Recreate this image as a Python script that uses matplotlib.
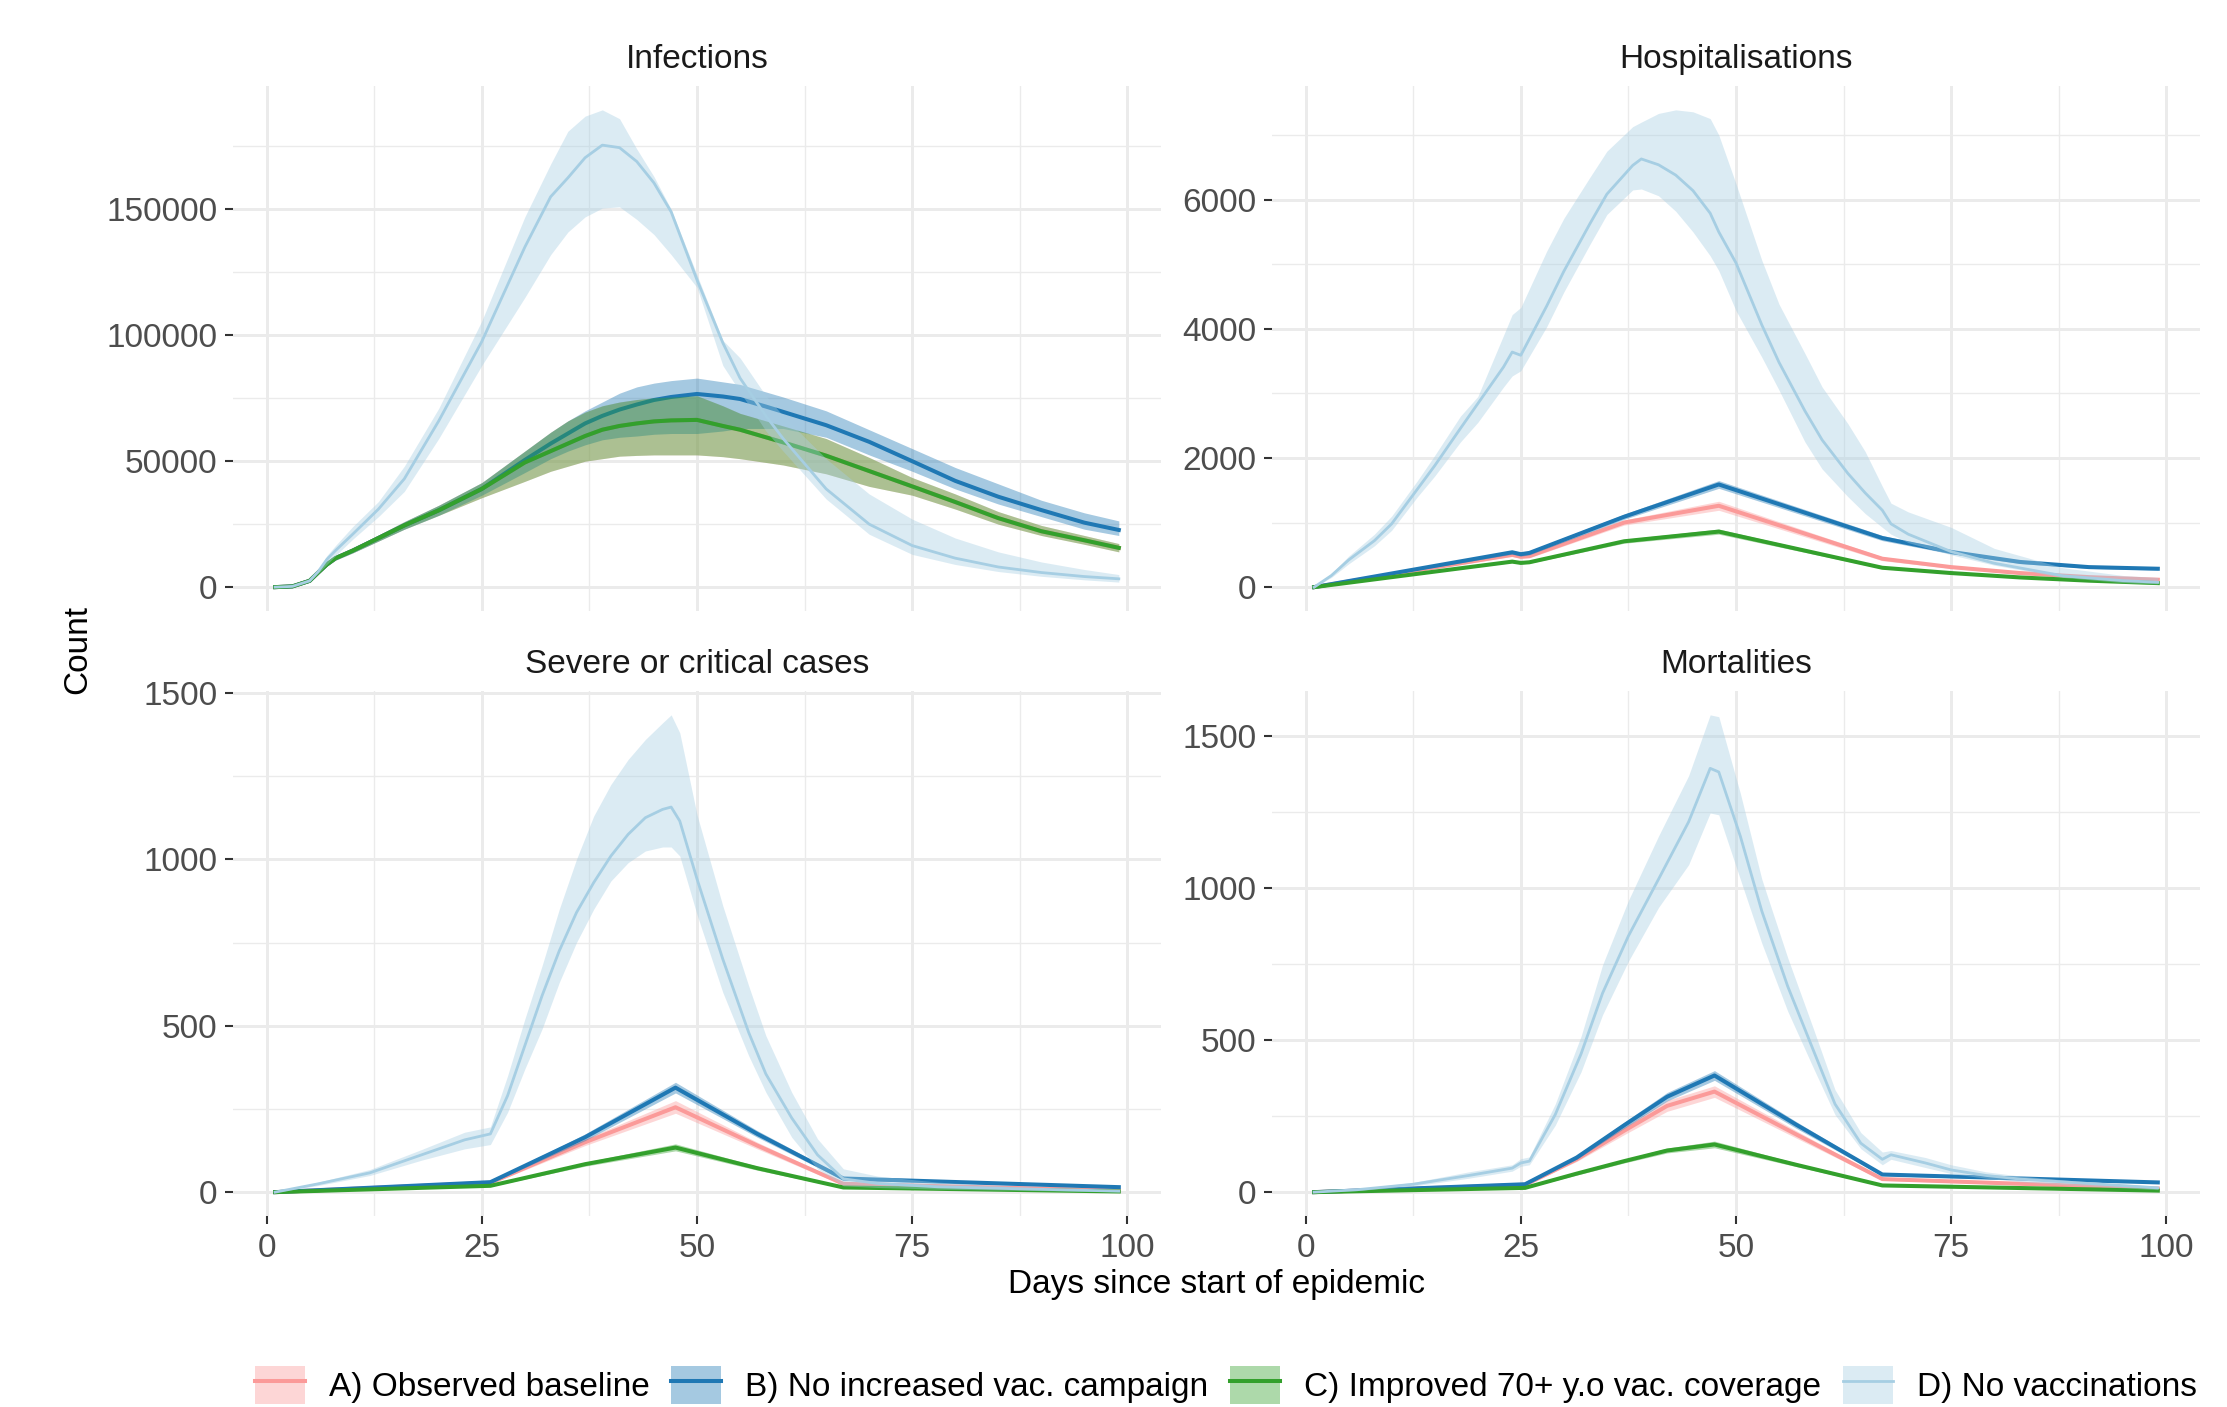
#!/usr/bin/env python3
from pathlib import Path

import matplotlib
matplotlib.use('Agg')
import matplotlib.pyplot as plt
from matplotlib.lines import Line2D
from matplotlib.patches import Patch
from matplotlib.legend_handler import HandlerTuple
from matplotlib.ticker import MultipleLocator, FuncFormatter

OUT = Path('out.png')

SCENARIOS = ['A', 'B', 'C', 'D']
LABELS = ['A) Observed baseline', 'B) No increased vac. campaign',
          'C) Improved 70+ y.o vac. coverage', 'D) No vaccinations']
COLORS = {'A': '#fb9a99', 'B': '#1f78b4', 'C': '#33a02c', 'D': '#a6cee3'}
LINE_W = {'A': 2.9, 'B': 2.9, 'C': 2.9, 'D': 2.0}

# ---- Infections ----
inf_days = [1, 3, 5, 6, 7, 8, 10, 13, 16, 20, 25, 30, 33, 35, 37, 39, 41, 43, 45, 47, 50,
            53, 55, 58, 60, 65, 70, 75, 80, 85, 90, 95, 99]
inf_a_mid = [0, 300, 2500, 5800, 9000, 11500, 14500, 19500, 24500, 30500, 39000,
             49500, 54000, 57000, 60000, 62500, 64000, 65000, 65800, 66200, 66400,
             64000, 62500, 59500, 57500, 52200, 46100, 40000, 33800, 27400, 22200, 18600, 15600]
inf_a_lo = [0, 250, 2200, 5300, 8300, 10700, 13600, 18300, 23000, 28500, 35500,
            42000, 46000, 48000, 50000, 51000, 52000, 52300, 52500, 52500, 52500,
            51800, 51000, 49500, 48500, 45000, 40000, 36500, 31000, 25000, 20500, 17000, 14000]
inf_a_hi = [0, 350, 2800, 6300, 9700, 12300, 15400, 20700, 26000, 32500, 41500,
            54000, 61500, 66000, 69500, 72000, 73500, 74500, 75200, 75500, 76000,
            72000, 69000, 66000, 64000, 59000, 51500, 43500, 37000, 30000, 24500, 20500, 17300]
inf_b_mid = [0, 300, 2500, 5800, 9000, 11500, 14500, 19500, 24500, 30500, 39000,
             50500, 57000, 61000, 65000, 68000, 70500, 72500, 74300, 75500, 76700,
             75700, 74700, 71700, 69600, 64300, 57700, 50000, 42200, 35900, 30600, 25600, 22700]
inf_b_lo = [0, 250, 2200, 5300, 8300, 10700, 13600, 18300, 23000, 28500, 36500,
            45500, 51000, 54000, 56500, 58500, 59500, 60000, 60700, 61000, 61000,
            62000, 63000, 63000, 63000, 59500, 52500, 46000, 39000, 33000, 28000, 23000, 20500]
inf_b_hi = [0, 350, 2800, 6300, 9700, 12300, 15400, 20700, 26000, 32500, 41500,
            54000, 61500, 66000, 70000, 73500, 77000, 79500, 81000, 82000, 83000,
            81500, 80500, 77500, 75500, 70000, 62500, 55000, 47500, 41000, 34500, 29500, 26300]
inf_c_mid = [0, 300, 2500, 5800, 9000, 11500, 14500, 19500, 24500, 30500, 39000,
             49500, 54000, 57000, 60000, 62500, 64000, 65000, 65800, 66200, 66400,
             64000, 62500, 59500, 57500, 52200, 46100, 40000, 33800, 27400, 22200, 18600, 15600]
inf_c_lo = [0, 250, 2200, 5300, 8300, 10700, 13600, 18300, 23000, 28500, 35500,
            42000, 46000, 48000, 50000, 51000, 52000, 52300, 52500, 52500, 52500,
            51800, 51000, 49500, 48500, 45000, 40000, 36500, 31000, 25000, 20500, 17000, 14000]
inf_c_hi = [0, 350, 2800, 6300, 9700, 12300, 15400, 20700, 26000, 32500, 41500,
            54000, 61500, 66000, 69500, 72000, 73500, 74500, 75200, 75500, 76000,
            72000, 69000, 66000, 64000, 59000, 51500, 43500, 37000, 30000, 24500, 20500, 17300]
inf_d_mid = [0, 300, 2500, 6200, 11000, 14500, 21000, 31000, 43000, 66000, 97500,
             135000, 155000, 162500, 170500, 175500, 174500, 169000, 160500, 149000, 122000,
             97000, 83000, 68000, 59000, 39000, 25000, 16500, 11500, 8000, 5800, 4200, 3300]
inf_d_lo = [0, 250, 2200, 5500, 9000, 12500, 19000, 28000, 38000, 59000, 88000,
            115000, 132000, 141000, 147000, 150500, 151000, 146000, 140000, 132000, 119000,
            88000, 77500, 62000, 54000, 35000, 21000, 13000, 9000, 6200, 4300, 2900, 2000]
inf_d_hi = [0, 350, 2800, 6800, 12500, 16500, 24000, 34000, 48000, 71000, 105700,
            147000, 168000, 181000, 187000, 189500, 186000, 174000, 163000, 150000, 124000,
            98000, 91000, 76000, 68000, 51000, 37000, 27000, 19500, 14000, 10000, 7000, 5000]

# ---- Hospitalisations ----
hosp_abc_days = [1, 24, 25, 26, 37, 48, 67, 75, 83, 91, 99]
hosp_a_mid = [0, 500, 470, 480, 1000, 1260, 440, 310, 218, 155, 115]
hosp_a_lo = [0, 475, 445, 455, 960, 1190, 410, 290, 200, 140, 100]
hosp_a_hi = [0, 525, 495, 505, 1040, 1330, 470, 330, 235, 170, 130]
hosp_b_mid = [0, 540, 510, 530, 1090, 1590, 760, 545, 390, 310, 285]
hosp_b_lo = [0, 510, 480, 500, 1050, 1530, 720, 515, 365, 290, 265]
hosp_b_hi = [0, 570, 540, 560, 1130, 1650, 800, 575, 415, 330, 305]
hosp_c_mid = [0, 395, 375, 385, 710, 860, 300, 218, 150, 100, 62]
hosp_c_lo = [0, 380, 360, 370, 680, 820, 285, 206, 140, 92, 56]
hosp_c_hi = [0, 410, 390, 400, 740, 900, 315, 230, 160, 108, 68]
hosp_d_days = [1, 3, 5, 8, 10, 13, 15, 18, 20, 23, 24, 25, 28, 30, 33, 35, 38, 39, 41, 43, 45, 47, 48, 50,
               53, 55, 58, 60, 63, 65, 67, 68, 70, 75, 80, 88, 95, 99]
hosp_d_mid = [0, 180, 420, 720, 980, 1520, 1880, 2460, 2840, 3410, 3640, 3590, 4350, 4890, 5620, 6085, 6530,
              6630, 6540, 6380, 6140, 5790, 5500, 5020, 4060, 3480, 2730, 2280, 1760, 1460, 1190, 980, 820,
              550, 370, 175, 100, 75]
hosp_d_lo = [0, 150, 360, 640, 880, 1400, 1720, 2250, 2550, 3100, 3270, 3350, 4030, 4570, 5300, 5770, 6150,
             6165, 6060, 5820, 5500, 5130, 4900, 4280, 3560, 3050, 2250, 1830, 1400, 1140, 925, 820, 690,
             500, 340, 150, 70, 50]
hosp_d_hi = [0, 210, 480, 820, 1100, 1650, 2040, 2650, 2950, 3900, 4220, 4330, 5200, 5710, 6340, 6750, 7130,
             7200, 7335, 7390, 7360, 7255, 7000, 6245, 5060, 4380, 3620, 3100, 2530, 2100, 1560, 1300, 1165,
             925, 600, 300, 180, 150]

# ---- Severe or critical cases ----
sev_abc_days = [1, 26, 37, 47.5, 57, 67, 99]
sev_a_mid = [0, 28, 150, 255, 140, 25, 5]
sev_a_lo = [0, 25, 140, 237, 130, 21, 3]
sev_a_hi = [0, 31, 160, 275, 150, 29, 7]
sev_b_mid = [0, 30, 165, 314, 175, 41, 15]
sev_b_lo = [0, 27, 155, 298, 165, 36, 13]
sev_b_hi = [0, 33, 175, 330, 185, 46, 17]
sev_c_mid = [0, 19, 84, 134, 72, 14, 2]
sev_c_lo = [0, 17, 78, 124, 66, 12, 1]
sev_c_hi = [0, 21, 90, 145, 78, 16, 3]
sev_d_days = [1, 6, 12, 18, 23, 26, 28, 30, 32, 34, 36, 38, 40, 42, 44, 46, 47, 48, 50, 53, 56, 58, 61, 64,
              67, 71, 78, 89, 99]
sev_d_mid = [0, 25, 58, 112, 157, 175, 290, 440, 590, 725, 840, 930, 1010, 1075, 1125, 1150, 1157, 1115, 941,
             700, 480, 355, 223, 112, 40, 26, 16, 9, 3]
sev_d_lo = [0, 20, 50, 96, 130, 143, 240, 370, 490, 630, 750, 850, 935, 990, 1025, 1037, 1037, 1010, 834,
            600, 410, 300, 165, 70, 19, 14, 9, 5, 1]
sev_d_hi = [0, 30, 68, 128, 180, 196, 350, 520, 680, 850, 1000, 1130, 1225, 1300, 1360, 1410, 1434, 1380, 1134,
            860, 620, 470, 300, 160, 70, 48, 30, 14, 6]

# ---- Mortalities ----
mort_abc_days = [1, 25.5, 31.5, 37, 42, 47.5, 57, 67, 99]
mort_a_mid = [0, 24, 108, 202, 284, 331, 190, 43, 12]
mort_a_lo = [0, 22, 101, 189, 266, 312, 178, 39, 9]
mort_a_hi = [0, 26, 115, 215, 302, 350, 202, 47, 15]
mort_b_mid = [0, 26, 114, 220, 314, 384, 222, 58, 32]
mort_b_lo = [0, 24, 108, 210, 300, 368, 210, 54, 29]
mort_b_hi = [0, 28, 120, 230, 328, 400, 232, 62, 35]
mort_c_mid = [0, 14, 61, 102, 137, 157, 90, 22, 5]
mort_c_lo = [0, 13, 56, 96, 129, 146, 84, 20, 4]
mort_c_hi = [0, 15, 66, 108, 145, 168, 96, 24, 6]
mort_d_days = [1, 6, 12.5, 19, 24, 25, 26, 29, 32, 34.5, 37.5, 41, 44.5, 47, 48, 50.5, 53, 56, 59, 61.5, 64.5,
               67, 68, 72, 75, 79, 83, 89, 99]
mort_d_mid = [0, 8, 26, 55, 79, 96, 102, 255, 455, 655, 843, 1030, 1219, 1395, 1383, 1172, 925, 678, 466, 290,
              161, 108, 123, 96, 73, 55, 43, 32, 14]
mort_d_lo = [0, 5, 20, 46, 69, 85, 90, 220, 396, 584, 760, 937, 1078, 1248, 1242, 1030, 819, 596, 408, 255,
             143, 90, 108, 81, 61, 46, 34, 23, 8]
mort_d_hi = [0, 11, 32, 67, 90, 110, 116, 290, 513, 748, 960, 1172, 1371, 1571, 1565, 1313, 1030, 772, 537, 337,
             196, 132, 137, 114, 90, 67, 53, 38, 20]

FONT = 24
GRID = '#EBEBEB'
TICK_COL = '#4D4D4D'


def draw_panel(ax, title, series, ystep, show_x):
    for k, (days, lo, mid, hi) in enumerate(series):
        key = SCENARIOS[k]
        col = COLORS[key]
        ax.fill_between(days, lo, hi, color=col, alpha=0.4, linewidth=0, zorder=2 + 2 * k)
        ax.plot(days, mid, color=col, lw=LINE_W[key], zorder=3 + 2 * k, solid_joinstyle='round')

    # ggplot-like 5% expansion on both axes
    xmin = min(min(s[0]) for s in series)
    xmax = max(max(s[0]) for s in series)
    ymin = min(min(s[1]) for s in series)
    ymax = max(max(s[3]) for s in series)
    ax.set_xlim(xmin - 0.05 * (xmax - xmin), xmax + 0.05 * (xmax - xmin))
    ax.set_ylim(ymin - 0.05 * (ymax - ymin), ymax + 0.05 * (ymax - ymin))

    ax.xaxis.set_major_locator(MultipleLocator(25))
    ax.xaxis.set_minor_locator(MultipleLocator(12.5))
    ax.yaxis.set_major_locator(MultipleLocator(ystep))
    ax.yaxis.set_minor_locator(MultipleLocator(ystep / 2))
    ax.yaxis.set_major_formatter(FuncFormatter(lambda v, _: f'{v:.0f}'))
    ax.xaxis.set_major_formatter(FuncFormatter(lambda v, _: f'{v:.0f}'))

    ax.set_axisbelow(True)
    ax.grid(which='major', color=GRID, lw=2.1)
    ax.grid(which='minor', color=GRID, lw=1.0)
    for sp in ax.spines.values():
        sp.set_visible(False)

    ax.tick_params(axis='y', which='major', length=6, width=1.5, color='#333333',
                   labelsize=FONT, labelcolor=TICK_COL, pad=5)
    ax.tick_params(axis='both', which='minor', length=0)
    if show_x:
        ax.tick_params(axis='x', which='major', length=6, width=1.5, color='#333333',
                       labelsize=FONT, labelcolor=TICK_COL, pad=6)
    else:
        ax.tick_params(axis='x', which='major', length=0, labelbottom=False)

    ax.set_title(title, fontsize=FONT, color='#1A1A1A', pad=13)


def main():
    plt.rcParams['font.family'] = ['Liberation Sans', 'DejaVu Sans']
    W, H = 2227, 1407
    fig = plt.figure(figsize=(W / 100, H / 100), dpi=100)

    panels = [
        ('Infections', [(inf_days, inf_a_lo, inf_a_mid, inf_a_hi),
                        (inf_days, inf_b_lo, inf_b_mid, inf_b_hi),
                        (inf_days, inf_c_lo, inf_c_mid, inf_c_hi),
                        (inf_days, inf_d_lo, inf_d_mid, inf_d_hi)], 50000),
        ('Hospitalisations', [(hosp_abc_days, hosp_a_lo, hosp_a_mid, hosp_a_hi),
                              (hosp_abc_days, hosp_b_lo, hosp_b_mid, hosp_b_hi),
                              (hosp_abc_days, hosp_c_lo, hosp_c_mid, hosp_c_hi),
                              (hosp_d_days, hosp_d_lo, hosp_d_mid, hosp_d_hi)], 2000),
        ('Severe or critical cases', [(sev_abc_days, sev_a_lo, sev_a_mid, sev_a_hi),
                                      (sev_abc_days, sev_b_lo, sev_b_mid, sev_b_hi),
                                      (sev_abc_days, sev_c_lo, sev_c_mid, sev_c_hi),
                                      (sev_d_days, sev_d_lo, sev_d_mid, sev_d_hi)], 500),
        ('Mortalities', [(mort_abc_days, mort_a_lo, mort_a_mid, mort_a_hi),
                         (mort_abc_days, mort_b_lo, mort_b_mid, mort_b_hi),
                         (mort_abc_days, mort_c_lo, mort_c_mid, mort_c_hi),
                         (mort_d_days, mort_d_lo, mort_d_mid, mort_d_hi)], 500),
    ]

    lefts = [233 / W, 1272 / W]
    width = 928 / W
    bottoms = [1 - 611 / H, 1 - 1216 / H]
    height = 525 / H

    for i, (title, series, ystep) in enumerate(panels):
        row, col = divmod(i, 2)
        ax = fig.add_axes([lefts[col], bottoms[row], width, height])
        draw_panel(ax, title, series, ystep, show_x=(row == 1))

    fig.text(78 / W, 1 - 650 / H, 'Count', rotation=90, ha='center', va='center', fontsize=FONT)
    fig.text(1216 / W, 1 - 1285 / H, 'Days since start of epidemic', ha='center', va='center', fontsize=FONT)

    handles = []
    for key in SCENARIOS:
        handles.append((Patch(facecolor=COLORS[key], alpha=0.4, edgecolor='none'),
                        Line2D([], [], color=COLORS[key], lw=LINE_W[key])))
    fig.legend(handles, LABELS, loc='center', bbox_to_anchor=(1226 / W, 22 / H), ncol=4, frameon=False,
               fontsize=FONT, handlelength=1.5, handleheight=1.4, handletextpad=0.72, columnspacing=0.65,
               borderpad=0, handler_map={tuple: HandlerTuple(ndivide=1)})

    fig.savefig(OUT, dpi=100)
    plt.close(fig)


if __name__ == '__main__':
    main()
